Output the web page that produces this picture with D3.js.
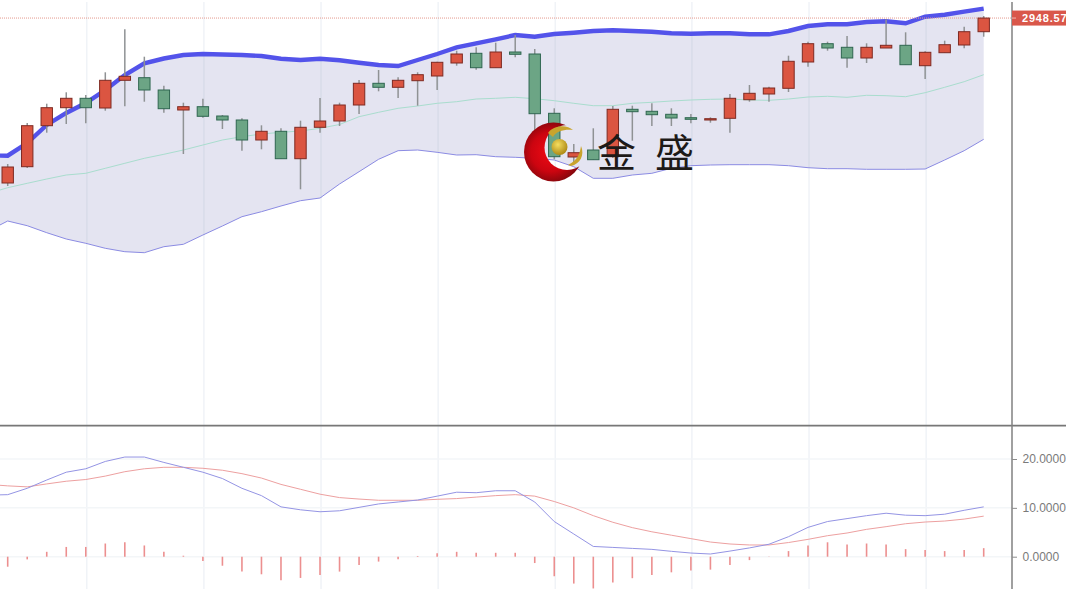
<!DOCTYPE html>
<html><head><meta charset="utf-8">
<script src="https://cdn.jsdelivr.net/npm/d3@7/dist/d3.min.js"></script>
<style>html,body{margin:0;padding:0;background:#fff;overflow:hidden}svg{display:block}text{font-family:"Liberation Sans",Arial,sans-serif}</style>
</head><body><svg id="c" width="1066" height="589"></svg>
<script>
const opens=[2866.1,2874.25,2894.75,2903.75,2908.45,2903.6,2917.45,2918.75,2912.6,2902.6,2904.25,2899.6,2897.6,2887.6,2891.95,2878.25,2893.95,2897.1,2905.1,2915.95,2913.95,2917.25,2919.6,2926.1,2930.95,2923.75,2931.6,2930.6,2900.95,2879.1,2882.6,2879.25,2902.95,2901.95,2900.45,2898.75,2897.6,2898.45,2907.75,2910.6,2913.45,2926.6,2935.75,2933.95,2928.6,2933.6,2934.95,2924.75,2931.25,2935.1,2941.75];
const closes=[2874.1,2894.75,2903.75,2908.45,2903.75,2917.45,2919.45,2912.6,2903.25,2904.25,2899.45,2897.6,2887.6,2891.95,2878.25,2893.95,2897.1,2905.1,2915.95,2913.95,2917.45,2920.25,2926.45,2930.6,2923.75,2931.6,2930.45,2900.75,2879.25,2881.25,2877.75,2902.95,2901.75,2900.25,2898.6,2897.95,2898.25,2908.45,2910.95,2913.6,2926.95,2935.75,2933.6,2928.6,2933.95,2934.95,2925.25,2931.45,2935.25,2941.75,2948.57];
const highs=[2875.6,2896.1,2905.75,2911.45,2910.1,2921.45,2942.95,2929.25,2914.75,2906.25,2908.25,2900.1,2898.45,2894.95,2893.45,2897.25,2908.6,2906.25,2917.6,2922.6,2918.95,2921.45,2926.75,2932.25,2933.95,2936.25,2940.1,2933.1,2903.45,2885.6,2893.45,2904.6,2904.75,2905.95,2903.45,2900.6,2898.95,2910.6,2915.1,2914.25,2929.75,2936.75,2936.75,2939.6,2935.95,2947.95,2941.45,2931.95,2937.25,2944.25,2949.6];
const lows=[2864.6,2873.6,2891.25,2895.6,2895.95,2902.25,2904.45,2906.75,2901.25,2880.6,2898.75,2893.1,2882.25,2882.95,2878.25,2862.95,2891.25,2894.6,2900.6,2911.95,2908.6,2904.75,2912.6,2924.75,2922.75,2923.75,2928.95,2892.6,2877.95,2876.1,2877.75,2878.6,2887.25,2894.6,2894.6,2895.95,2896.25,2891.25,2906.75,2906.75,2911.6,2924.25,2932.25,2923.75,2926.1,2933.6,2925.25,2918.1,2931.25,2933.45,2939.25];
// Band and MACD series start one session before the first visible candle
const bandUpper=[2879.85,2879.75,2886.1,2895.1,2901.1,2906.1,2912.6,2920.1,2925.95,2928.35,2930.1,2930.6,2930.35,2930.1,2929.6,2928.25,2927.6,2928.25,2927.45,2926.25,2925.1,2924.6,2927.6,2930.6,2933.95,2935.95,2937.95,2940.1,2939.25,2940.6,2941.25,2942.1,2942.45,2942.1,2941.75,2940.95,2940.75,2940.95,2940.95,2940.45,2940.45,2942.1,2944.6,2945.45,2945.45,2946.6,2946.95,2945.95,2949.25,2950.25,2951.75,2953.25];
const bandMid=[2860.85,2863.75,2865.95,2868.1,2870.1,2870.95,2873.45,2875.95,2878.45,2880.45,2882.6,2885.1,2887.6,2889.25,2890.6,2891.45,2892.1,2893.45,2895.35,2899.25,2901.45,2903.45,2904.6,2905.95,2906.75,2908.1,2908.45,2908.95,2908.25,2907.25,2905.95,2904.75,2904.75,2905.95,2906.45,2907.1,2907.6,2907.95,2908.1,2907.6,2907.45,2908.1,2909.1,2909.45,2908.95,2909.95,2909.75,2909.25,2911.25,2913.95,2916.75,2920.25];
const bandLower=[2842.1,2847.1,2844.75,2841.25,2838.1,2835.95,2833.45,2831.75,2831.25,2834.25,2835.45,2840.1,2844.6,2849.25,2851.75,2854.6,2857.25,2858.6,2865.6,2871.75,2877.95,2882.25,2882.6,2881.45,2880.1,2880.25,2879.25,2878.95,2878.45,2877.6,2874.25,2868.45,2868.45,2870.1,2870.95,2873.45,2874.75,2875.1,2875.25,2875.25,2875.25,2874.75,2873.75,2873.25,2873.25,2872.95,2872.95,2872.95,2873.1,2877.6,2882.25,2887.95];
const dif=[12.6,12.7,14.0,15.7,17.3,18.0,19.5,20.4,20.4,19.3,18.3,17.3,16.0,14.0,12.5,10.2,9.6,9.2,9.4,10.1,10.8,11.2,11.6,12.4,13.2,13.1,13.5,13.5,11.2,7.2,4.65,2.1,1.9,1.7,1.5,1.1,0.75,0.55,1.15,1.8,2.55,4.1,6.0,7.2,7.8,8.4,8.9,8.5,8.4,8.7,9.5,10.2];
const dea=[14.8,14.5,14.3,14.9,15.45,15.8,16.5,17.4,18.0,18.3,18.3,18.1,17.7,17.0,16.1,14.8,13.8,12.8,12.1,11.8,11.55,11.55,11.55,11.75,11.9,12.2,12.5,12.7,12.4,11.3,10.0,8.4,7.05,5.95,5.1,4.4,3.7,3.0,2.6,2.4,2.4,2.9,3.55,4.3,4.85,5.6,6.15,6.75,7.1,7.3,7.7,8.3];
const hist=[-2.05,-0.55,1.0,2.0,2.0,2.7,2.95,2.3,1.0,0.2,-0.9,-1.85,-3.05,-3.6,-4.8,-4.35,-3.75,-3.05,-1.7,-1.0,-0.5,0.15,0.7,1.0,0.8,0.8,0.8,-1.3,-4.0,-5.5,-6.5,-5.3,-4.4,-3.75,-3.2,-2.8,-2.65,-1.7,-0.7,0.05,1.15,2.3,2.95,2.5,2.7,2.5,1.55,1.35,1.15,1.35,1.75];
const gridSessions=[4,10,16,22,28,35,41,47];
const macdTicks=[0,10,20];
const lastPriceLabel="2948.57";
const lastPrice=2948.57;
const logoChars=["金","盛"];

const svg=d3.select("#c");
const x=d3.scaleLinear().domain([0,50]).range([7.7,983.7]);
const y=d3.scaleLinear().domain([2957.6,2745.1]).range([0,425]);
const ym=d3.scaleLinear().domain([0,20]).range([556.7,459]);
const axisX=1012;

// vertical grid
svg.append("g").selectAll("line").data(gridSessions).join("line")
  .attr("x1",d=>x(d)+1).attr("x2",d=>x(d)+1).attr("y1",2).attr("y2",589)
  .attr("stroke","#F0F3F7").attr("stroke-width",1.5);
// macd horizontal grid
svg.append("g").selectAll("line").data(macdTicks).join("line")
  .attr("x1",0).attr("x2",axisX).attr("y1",d=>ym(d)).attr("y2",d=>ym(d))
  .attr("stroke","#F3F6F8").attr("stroke-width",1.5);

// bollinger
const idx=d3.range(bandUpper.length);
const bx=i=>x(i-1);
svg.append("path").attr("fill","#C9CAE4").attr("fill-opacity",.5)
  .attr("d",d3.area().x(bx).y0(i=>y(bandLower[i])).y1(i=>y(bandUpper[i]))(idx));
svg.append("g").selectAll("line").data(gridSessions).join("line")
  .attr("x1",d=>x(d)+1).attr("x2",d=>x(d)+1).attr("y1",d=>y(bandUpper[d+1])).attr("y2",d=>y(bandLower[d+1]))
  .attr("stroke","#DADDEA").attr("stroke-width",1.5);
const bandLine=a=>d3.line().x(bx).y(i=>y(a[i]))(idx);
svg.append("path").attr("d",bandLine(bandLower)).attr("fill","none").attr("stroke","#8B8BE3").attr("stroke-width",1);
svg.append("path").attr("d",bandLine(bandMid)).attr("fill","none").attr("stroke","#A9DDCE").attr("stroke-width",1);
svg.append("path").attr("d",bandLine(bandUpper)).attr("fill","none").attr("stroke","#5353EA").attr("stroke-width",4.4);

// last price line
svg.append("line").attr("x1",0).attr("x2",axisX).attr("y1",y(lastPrice)).attr("y2",y(lastPrice))
  .attr("stroke","#E59A8E").attr("stroke-width",1).attr("stroke-dasharray","1 1");

// candles
const cd=d3.range(opens.length);
const g=svg.append("g");
g.selectAll(".w").data(cd).join("line").attr("class","w")
  .attr("x1",i=>x(i)).attr("x2",i=>x(i)).attr("y1",i=>y(highs[i])).attr("y2",i=>y(lows[i]))
  .attr("stroke","#8F9294").attr("stroke-width",1.5);
g.selectAll(".b").data(cd).join("rect").attr("class","b")
  .attr("x",i=>x(i)-5.7).attr("width",11.4)
  .attr("y",i=>y(Math.max(opens[i],closes[i])))
  .attr("height",i=>Math.max(1,Math.abs(y(opens[i])-y(closes[i]))))
  .attr("fill",i=>closes[i]>=opens[i]?"#DB5541":"#6CA585")
  .attr("stroke",i=>closes[i]>=opens[i]?"#7E2A22":"#2F6650").attr("stroke-width",1);

// macd
const mdx=d3.range(dif.length);
svg.append("g").selectAll("line").data(hist).join("line")
  .attr("x1",(d,i)=>x(i)).attr("x2",(d,i)=>x(i)).attr("y1",ym(0)).attr("y2",d=>ym(d))
  .attr("stroke","#EC8F8F").attr("stroke-width",1.6);
const mLine=a=>d3.line().x(bx).y(i=>ym(a[i]))(mdx);
svg.append("path").attr("d",mLine(dea)).attr("fill","none").attr("stroke","#EDA0A0").attr("stroke-width",1);
svg.append("path").attr("d",mLine(dif)).attr("fill","none").attr("stroke","#9494E4").attr("stroke-width",1);

// axes
svg.append("line").attr("x1",0).attr("x2",1066).attr("y1",425.6).attr("y2",425.6).attr("stroke","#777").attr("stroke-width",1.6);
svg.append("line").attr("x1",axisX).attr("x2",axisX).attr("y1",2).attr("y2",589).attr("stroke","#808080").attr("stroke-width",1.5);
const ax=svg.append("g").attr("transform",`translate(${axisX},0)`)
  .call(d3.axisRight(ym).tickValues(macdTicks).tickFormat(d3.format(".4f")).tickSize(5).tickPadding(5));
ax.select(".domain").remove();
ax.selectAll("line").attr("stroke","#8C8C8C");
ax.selectAll("text").attr("fill","#7A7A7A").attr("dx",.5).style("font-size","12px").style("font-family",'"Liberation Sans",Arial,sans-serif');

// last price tag
svg.append("rect").attr("x",axisX).attr("y",y(lastPrice)-7.5).attr("width",54).attr("height",15).attr("fill","#D9574A");
svg.append("line").attr("x1",axisX).attr("x2",axisX+4).attr("y1",y(lastPrice)).attr("y2",y(lastPrice)).attr("stroke","#F2B8B0");
svg.append("text").attr("x",1022).attr("y",y(lastPrice)+4).attr("fill","#fff")
  .attr("font-weight","bold").attr("font-size",11).attr("letter-spacing",.8).text(lastPriceLabel);

// logo watermark
const defs=svg.append("defs");
const rg=defs.append("radialGradient").attr("id","red").attr("cx","45%").attr("cy","50%").attr("r","55%");
rg.append("stop").attr("offset","0").attr("stop-color","#F00A14");
rg.append("stop").attr("offset",".6").attr("stop-color","#CC0510");
rg.append("stop").attr("offset","1").attr("stop-color","#7E070C");
const gg=defs.append("radialGradient").attr("id","gold").attr("cx","40%").attr("cy","35%").attr("r","70%");
gg.append("stop").attr("offset","0").attr("stop-color","#F5DE60");
gg.append("stop").attr("offset","1").attr("stop-color","#A98410");
const mask=defs.append("mask").attr("id","cres").attr("maskUnits","userSpaceOnUse").attr("x",500).attr("y",100).attr("width",120).attr("height",100);
mask.append("rect").attr("x",500).attr("y",100).attr("width",120).attr("height",100).attr("fill","#fff");
mask.append("circle").attr("cx",567).attr("cy",147.5).attr("r",22.5).attr("fill","#000");
svg.append("circle").attr("cx",553.5).attr("cy",152).attr("r",29.5).attr("fill","url(#red)").attr("mask","url(#cres)");
svg.append("path").attr("fill","#C9A42C").attr("d","M548 133 C553 125,567 124,573 130 C565 129,556 131,553 137 Z");
svg.append("path").attr("fill","#C9A42C").attr("d","M568 165 C578 160,580 153,581 146 C585 155,580 164,571 166 Z");
svg.append("circle").attr("cx",559.5).attr("cy",147).attr("r",8).attr("fill","url(#gold)");
svg.append("g").selectAll("text").data(logoChars).join("text")
  .attr("x",(d,i)=>i?655:597).attr("y",167).attr("fill","#1E1A18")
  .style("font-family",'"Noto Sans CJK SC"').style("font-size","39px").text(d=>d);
</script></body></html>
